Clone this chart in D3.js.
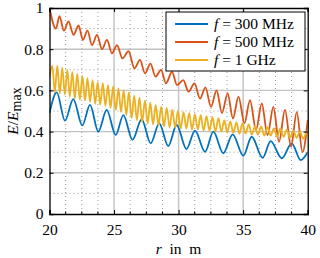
<!DOCTYPE html>
<html><head><meta charset="utf-8">
<script src="https://cdn.jsdelivr.net/npm/d3@7"></script>
<style>
html,body{margin:0;padding:0;background:#fff;}
svg{display:block;font-family:"Liberation Serif",serif;}
</style></head>
<body><svg id="c" width="320" height="258"></svg>
<script>
// ---- data ----
const seriesNames = ["300 MHz", "500 MHz", "1 GHz"];
const seriesColors = ["#0072BD", "#D95319", "#EDB120"];
const xTicks = [20, 25, 30, 35, 40];
const yTicks = [0, 0.2, 0.4, 0.6, 0.8, 1];

// f = 300 MHz : [r, E/Emax] extrema
const blueR = [20.00,20.56,21.20,21.84,22.54,23.14,23.78,24.43,25.13,25.72,26.43,27.14,27.84,28.50,29.20,29.85,30.61,31.27,32.05,32.69,33.46,34.19,35.01,35.66,36.51,37.13,37.99,38.76,39.46,40.00];
const blueV = [0.49,0.59,0.453,0.558,0.43,0.53,0.40,0.505,0.384,0.48,0.36,0.46,0.343,0.44,0.33,0.432,0.315,0.405,0.302,0.40,0.295,0.387,0.283,0.375,0.273,0.354,0.27,0.343,0.262,0.30];

// f = 500 MHz
const orangeR = [20.00,20.50,20.77,21.12,21.47,21.86,22.25,22.59,22.94,23.29,23.68,24.07,24.45,24.84,25.23,25.65,26.12,26.58,27.01,27.40,27.82,28.21,28.64,29.02,29.49,29.88,30.36,30.77,31.23,31.66,32.08,32.51,32.94,33.36,33.80,34.21,34.64,35.10,35.53,36.00,36.44,36.89,37.34,37.78,38.24,38.71,39.15,39.60,40.00];
const orangeV = [1.0,0.90,0.96,0.89,0.935,0.87,0.915,0.845,0.89,0.82,0.87,0.80,0.845,0.78,0.82,0.755,0.79,0.707,0.748,0.683,0.73,0.667,0.70,0.634,0.69,0.626,0.65,0.594,0.634,0.56,0.615,0.52,0.60,0.49,0.586,0.464,0.57,0.44,0.553,0.408,0.537,0.383,0.52,0.351,0.505,0.327,0.495,0.30,0.456];

// f = 1 GHz
const yellowR = [20.00,20.22,20.41,20.60,20.80,20.99,21.19,21.38,21.57,21.77,21.96,22.15,22.35,22.55,22.75,22.94,23.14,23.34,23.54,23.73,23.93,24.13,24.33,24.53,24.73,24.93,25.14,25.34,25.54,25.74,25.95,26.15,26.36,26.56,26.77,26.97,27.18,27.39,27.60,27.81,28.02,28.23,28.44,28.65,28.87,29.08,29.30,29.51,29.73,29.95,30.16,30.38,30.60,30.82,31.04,31.26,31.49,31.71,31.94,32.16,32.39,32.62,32.85,33.08,33.31,33.54,33.77,34.00,34.24,34.48,34.71,34.95,35.19,35.43,35.67,35.91,36.15,36.40,36.64,36.89,37.13,37.38,37.63,37.88,38.13,38.38,38.63,38.89,39.14,39.40,39.65,39.91,40.00];
const yellowV = [0.66,0.72,0.59,0.72,0.585,0.71,0.58,0.70,0.57,0.69,0.56,0.68,0.555,0.67,0.55,0.66,0.545,0.65,0.535,0.64,0.53,0.635,0.525,0.625,0.515,0.62,0.505,0.61,0.495,0.60,0.48,0.59,0.465,0.575,0.455,0.565,0.445,0.55,0.44,0.54,0.435,0.53,0.43,0.52,0.425,0.515,0.42,0.505,0.42,0.50,0.415,0.495,0.415,0.49,0.41,0.485,0.41,0.48,0.405,0.475,0.405,0.47,0.40,0.465,0.40,0.455,0.395,0.45,0.395,0.445,0.39,0.44,0.39,0.435,0.385,0.425,0.385,0.425,0.38,0.42,0.38,0.415,0.375,0.415,0.375,0.41,0.37,0.405,0.37,0.40,0.365,0.395,0.385];

const seriesR = [blueR, orangeR, yellowR];
const seriesV = [blueV, orangeV, yellowV];

// ---- layout ----
const L = 49.5, R = 307.7, T = 8, B = 214;
const svg = d3.select("#c");
const x = d3.scaleLinear().domain([20, 40]).range([L, R]);
const y = d3.scaleLinear().domain([0, 1]).range([B, T]);

const xMinor = d3.range(20, 40.001, 1.25).filter(v => xTicks.indexOf(v) < 0);
const yMinor = d3.range(0.1, 1, 0.2);

// minor grid (dotted)
const g = svg.append("g");
g.selectAll(".mx").data(xMinor).join("line")
  .attr("x1", d => x(d)).attr("x2", d => x(d)).attr("y1", T).attr("y2", B)
  .attr("stroke", "#9a9a9a").attr("stroke-width", 1).attr("stroke-dasharray", "1,3");
g.selectAll(".my").data(yMinor).join("line")
  .attr("y1", d => y(d)).attr("y2", d => y(d)).attr("x1", L).attr("x2", R)
  .attr("stroke", "#9a9a9a").attr("stroke-width", 1).attr("stroke-dasharray", "1,3");
// major grid
g.selectAll(".gx").data(xTicks.slice(1, -1)).join("line")
  .attr("x1", d => x(d)).attr("x2", d => x(d)).attr("y1", T).attr("y2", B)
  .attr("stroke", "#c2c2c2").attr("stroke-width", 1.4);
g.selectAll(".gy").data(yTicks.slice(1, -1)).join("line")
  .attr("y1", d => y(d)).attr("y2", d => y(d)).attr("x1", L).attr("x2", R)
  .attr("stroke", "#c2c2c2").attr("stroke-width", 1.4);

// series
const line = d3.line().x(d => x(d[0])).y(d => y(d[1])).curve(d3.curveMonotoneX);
svg.append("clipPath").attr("id", "clp").append("rect")
  .attr("x", L).attr("y", T - 1).attr("width", R - L).attr("height", B - T + 1);
seriesR.forEach((rs, i) => {
  const pts = rs.map((r, k) => [r, seriesV[i][k]]);
  svg.append("path").datum(pts).attr("d", line)
    .attr("fill", "none").attr("stroke", seriesColors[i]).attr("stroke-width", 1.8)
    .attr("stroke-linejoin", "round").attr("clip-path", "url(#clp)");
});

// axes with inside ticks
const ax = svg.append("g");
ax.append("g").attr("transform", `translate(0,${B})`)
  .call(d3.axisBottom(x).tickValues(xTicks).tickSize(-4).tickPadding(10).tickFormat(d3.format("d")));
ax.append("g").attr("transform", `translate(0,${T})`)
  .call(d3.axisTop(x).tickValues(xTicks).tickSize(-4).tickFormat(""));
ax.append("g").attr("transform", `translate(${L},0)`)
  .call(d3.axisLeft(y).tickValues(yTicks).tickSize(-4).tickPadding(6).tickFormat(d => d === 0 || d === 1 ? d3.format("d")(d) : d3.format(".1f")(d)));
ax.append("g").attr("transform", `translate(${R},0)`)
  .call(d3.axisRight(y).tickValues(yTicks).tickSize(-4).tickFormat(""));
ax.selectAll(".domain").attr("stroke", "#000").attr("stroke-width", 1.3);
ax.selectAll(".tick line").attr("stroke", "#000");
ax.selectAll("text").attr("font-family", "Liberation Serif").attr("font-size", 15.5).attr("fill", "#000");

// minor ticks on bottom axis
svg.selectAll(".mt").data(xMinor).join("line")
  .attr("x1", d => x(d)).attr("x2", d => x(d)).attr("y1", B).attr("y2", B - 2.5)
  .attr("stroke", "#000").attr("stroke-width", 1);

// axis labels
const xl = svg.append("text").attr("x", (L + R) / 2).attr("y", 254).attr("text-anchor", "middle")
  .attr("font-size", 15.5);
xl.append("tspan").attr("font-style", "italic").text("r");
xl.append("tspan").text("\u2002in\u2002m");

const yl = svg.append("text").attr("transform", `translate(18,${(T + B) / 2}) rotate(-90)`)
  .attr("text-anchor", "middle").attr("font-size", 15.5);
yl.append("tspan").attr("font-style", "italic").text("E");
yl.append("tspan").text("/");
yl.append("tspan").attr("font-style", "italic").text("E");
yl.append("tspan").attr("dy", 3).attr("font-size", 14).text("max");

// legend
const lg = svg.append("g");
lg.append("rect").attr("x", 166).attr("y", 12).attr("width", 139).attr("height", 59)
  .attr("fill", "#fff").attr("stroke", "#000").attr("stroke-width", 1);
seriesNames.forEach((n, i) => {
  const yy = 24 + i * 18;
  lg.append("line").attr("x1", 175).attr("x2", 208).attr("y1", yy).attr("y2", yy)
    .attr("stroke", seriesColors[i]).attr("stroke-width", 1.8);
  const t = lg.append("text").attr("x", 214).attr("y", yy + 5).attr("font-size", 15.5);
  t.append("tspan").attr("font-style", "italic").text("f");
  t.append("tspan").text(" = " + n);
});
</script></body></html>
